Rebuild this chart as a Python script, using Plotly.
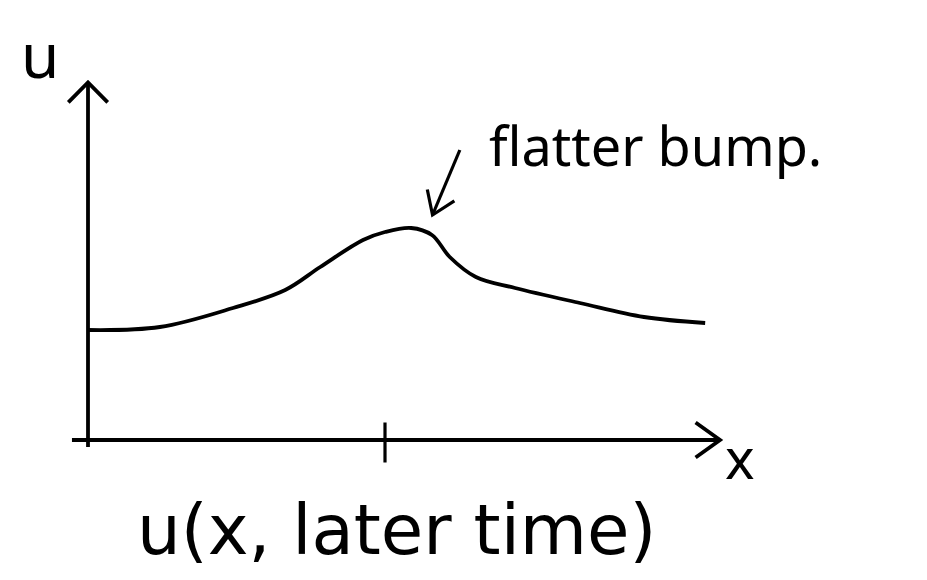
import numpy as np
import plotly.graph_objects as go

# curve: u(x) at a later time
x_vals = [0.0, 1.21, 2.44, 3.32, 3.91, 4.63, 5.0, 5.44, 5.79, 6.09, 6.53, 7.19, 8.28, 9.36, 10.39]
u_vals = [2.2, 2.26, 2.64, 3.0, 3.46, 4.0, 4.16, 4.24, 4.1, 3.66, 3.26, 3.04, 2.74, 2.46, 2.34]

x_axis_end = 10.64
u_axis_end = 7.15
tick_x = 5.0

label_u = "u"
label_x = "x"
label_note = "flatter bump."
label_title = "u(x, later time)"

# the page body has an 8px margin, so the figure is a bit smaller than the window
W, H = 911, 564
px_per_x = 59.4
px_per_y = 50.0
x_range = [-80 / px_per_x, (W - 80) / px_per_x]
y_range = [(432 - H) / px_per_y, 432 / px_per_y]

FONT = "Noto Sans"
INK = "black"
LW = 3.8


def chevron(x_tip, y_tip, dx, dy, size=18, spread=0.6):
    # open arrow head at the tip, pointing along (dx, dy) in pixel space
    ang = np.arctan2(dy * px_per_y, dx * px_per_x)
    xs, ys = [], []
    for s in (spread, -spread):
        a = ang + np.pi - s
        xs.append(x_tip + size * np.cos(a) / px_per_x)
        ys.append(y_tip + size * np.sin(a) / px_per_y)
    return [xs[0], x_tip, xs[1]], [ys[0], y_tip, ys[1]]


def line(fig, xs, ys, width=LW, shape="linear"):
    fig.add_trace(go.Scatter(x=xs, y=ys, mode="lines", hoverinfo="skip",
                             line=dict(color=INK, width=width, shape=shape)))


fig = go.Figure()

# axes
line(fig, [-0.27, x_axis_end], [0, 0])
line(fig, [0, 0], [-0.14, u_axis_end])
hx, hy = chevron(x_axis_end, 0, 1, 0, size=30, spread=0.62)
line(fig, hx, hy)
hx, hy = chevron(0, u_axis_end, 0, 1, size=28, spread=0.78)
line(fig, hx, hy)

# tick on the x axis
line(fig, [tick_x, tick_x], [-0.45, 0.35], width=3.2)

# the flattened bump
line(fig, x_vals, u_vals, shape="spline")

# pointer from note to the peak
tail = (6.26, 5.8)
head = (5.8, 4.5)
line(fig, [tail[0], head[0]], [tail[1], head[1]], width=3.2)
hx, hy = chevron(head[0], head[1], head[0] - tail[0], head[1] - tail[1], size=26)
line(fig, hx, hy, width=3.2)

fig.add_annotation(x=-0.8, y=7.72, text=label_u, showarrow=False,
                   font=dict(family=FONT, size=62, color=INK))
fig.add_annotation(x=10.98, y=-0.33, text=label_x, showarrow=False,
                   font=dict(family=FONT, size=56, color=INK), xanchor="center")
fig.add_annotation(x=6.72, y=5.9, text=label_note, showarrow=False, xanchor="left",
                   font=dict(family=FONT, size=54, color=INK))
fig.add_annotation(x=5.2, y=-1.8, text=label_title, showarrow=False,
                   font=dict(family="DejaVu Sans", size=69, color=INK))

fig.update_layout(
    width=W, height=H,
    margin=dict(l=0, r=0, t=0, b=0),
    paper_bgcolor="white", plot_bgcolor="white",
    showlegend=False,
    xaxis=dict(range=x_range, visible=False, fixedrange=True),
    yaxis=dict(range=y_range, visible=False, fixedrange=True),
)

fig.write_html("out.html")
